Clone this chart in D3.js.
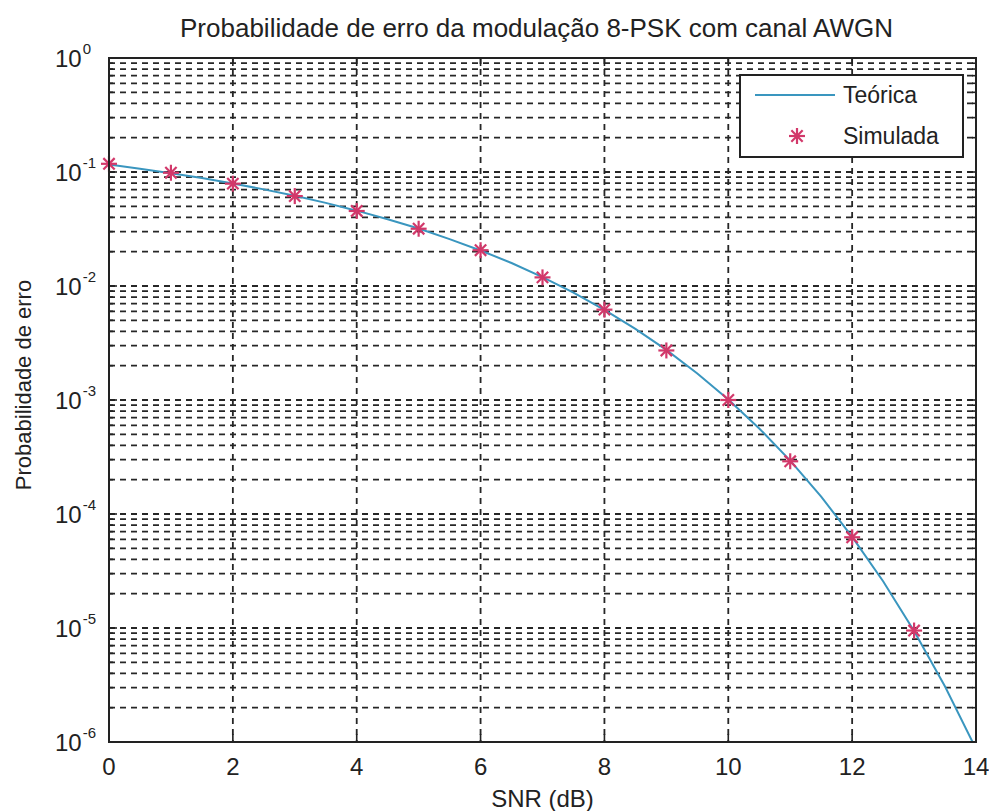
<!DOCTYPE html>
<html>
<head>
<meta charset="utf-8">
<script src="https://cdn.jsdelivr.net/npm/d3@7"></script>
<style>
  body { margin: 0; background: #fff; }
  text { font-family: "Liberation Sans", Arial, sans-serif; fill: #222; }
</style>
</head>
<body>
<div id="chart"></div>
<script>
// theoretical curve
const snrTeo = [0, 0.5, 1, 1.5, 2, 2.5, 3, 3.5, 4, 4.5, 5, 5.5, 6, 6.5, 7, 7.5, 8, 8.5, 9, 9.5, 10, 10.5, 11, 11.5, 12, 12.5, 13, 13.5, 14];
const berTeo = [0.1163, 0.1069, 0.0976, 0.0884, 0.0793, 0.0704, 0.0618, 0.0536, 0.0458, 0.0385, 0.0319, 0.0258,
    0.0205, 0.0159, 0.01195, 0.00874, 0.00618, 0.00421, 0.00275, 0.00171, 0.00101, 0.000563, 0.000294, 0.000142,
    0.000063, 0.0000257, 0.0000094, 0.00000307, 0.00000087];

// simulated points
const snrSim = [0, 1, 2, 3, 4, 5, 6, 7, 8, 9, 10, 11, 12, 13];
const berSim = [0.118, 0.0985, 0.0790, 0.0615, 0.0455, 0.0318, 0.0206, 0.0119, 0.0062, 0.00272, 0.00100, 0.000290, 0.0000625, 0.0000095];

const xTicks = [0, 2, 4, 6, 8, 10, 12, 14];
const yDecades = [0, -1, -2, -3, -4, -5, -6];

const legendLabels = ['Teórica', 'Simulada'];

const lineColor = '#3a96bf';
const starColor = '#d2386a';

const margin = {top: 58, right: 13, bottom: 69, left: 109};
const width = 989, height = 811;
const visWidth = width - margin.left - margin.right;
const visHeight = height - margin.top - margin.bottom;

const svg = d3.select('#chart').append('svg')
    .attr('width', width)
    .attr('height', height);

const container = svg.append('g')
    .attr('transform', `translate(${margin.left}, ${margin.top})`);

const x = d3.scaleLinear().domain([0, 14]).range([0, visWidth]);
const y = d3.scaleLog().domain([1e-6, 1]).range([visHeight, 0]);

container.append('clipPath').attr('id', 'clip')
    .append('rect').attr('width', visWidth).attr('height', visHeight);

// minor + major horizontal grid lines
const yGrid = [];
for (let e = -6; e < 0; e++) {
    for (let m = 1; m <= 9; m++) yGrid.push(m * Math.pow(10, e));
}
yGrid.push(1);

container.selectAll('.hgrid')
    .data(yGrid.filter(v => v > 1e-6 && v < 1))
    .join('line')
    .attr('class', 'hgrid')
    .attr('x1', 0).attr('x2', visWidth)
    .attr('y1', d => y(d)).attr('y2', d => y(d))
    .attr('stroke', '#262626')
    .attr('stroke-width', 1.8)
    .attr('stroke-dasharray', '6,5');

container.selectAll('.vgrid')
    .data(xTicks.filter(d => d > 0 && d < 14))
    .join('line')
    .attr('class', 'vgrid')
    .attr('x1', d => x(d)).attr('x2', d => x(d))
    .attr('y1', 0).attr('y2', visHeight)
    .attr('stroke', '#262626')
    .attr('stroke-width', 1.8)
    .attr('stroke-dasharray', '6,5');

// inside ticks
const tickLen = 8;
container.selectAll('.xtick')
    .data(xTicks)
    .join('g')
    .attr('class', 'xtick')
    .each(function (d) {
        const g = d3.select(this);
        g.append('line').attr('x1', x(d)).attr('x2', x(d)).attr('y1', visHeight).attr('y2', visHeight - tickLen)
            .attr('stroke', '#222').attr('stroke-width', 1.6);
        g.append('line').attr('x1', x(d)).attr('x2', x(d)).attr('y1', 0).attr('y2', tickLen)
            .attr('stroke', '#222').attr('stroke-width', 1.6);
    });

container.selectAll('.ytick')
    .data(yGrid)
    .join('g')
    .attr('class', 'ytick')
    .each(function (d) {
        const major = Math.abs(Math.log10(d) - Math.round(Math.log10(d))) < 1e-9;
        const len = major ? tickLen : 4;
        const g = d3.select(this);
        g.append('line').attr('x1', 0).attr('x2', len).attr('y1', y(d)).attr('y2', y(d))
            .attr('stroke', '#222').attr('stroke-width', 1.6);
        g.append('line').attr('x1', visWidth).attr('x2', visWidth - len).attr('y1', y(d)).attr('y2', y(d))
            .attr('stroke', '#222').attr('stroke-width', 1.6);
    });

// theoretical curve
const line = d3.line()
    .x((d, i) => x(snrTeo[i]))
    .y(d => y(d));

container.append('path')
    .datum(berTeo)
    .attr('clip-path', 'url(#clip)')
    .attr('d', line)
    .attr('fill', 'none')
    .attr('stroke', lineColor)
    .attr('stroke-width', 2);

// star marker
function star(g, cx, cy) {
    const r = 8;
    [0, 45, 90, 135].forEach(function (a) {
        const rad = a * Math.PI / 180;
        g.append('line')
            .attr('x1', cx - r * Math.cos(rad)).attr('y1', cy - r * Math.sin(rad))
            .attr('x2', cx + r * Math.cos(rad)).attr('y2', cy + r * Math.sin(rad))
            .attr('stroke', starColor)
            .attr('stroke-width', 2.2);
    });
}

const stars = container.append('g');
berSim.forEach(function (d, i) {
    star(stars, x(snrSim[i]), y(d));
});

// box
container.append('rect')
    .attr('width', visWidth).attr('height', visHeight)
    .attr('fill', 'none')
    .attr('stroke', '#222')
    .attr('stroke-width', 2);

// x tick labels
svg.selectAll('.xlabel')
    .data(xTicks)
    .join('text')
    .attr('class', 'xlabel')
    .attr('x', d => margin.left + x(d))
    .attr('y', margin.top + visHeight + 33)
    .attr('text-anchor', 'middle')
    .style('font-size', '24px')
    .text(d => d);

// y tick labels 10^e
const ylab = svg.selectAll('.ylabel')
    .data(yDecades)
    .join('text')
    .attr('class', 'ylabel')
    .attr('x', margin.left - 54)
    .attr('y', d => margin.top + y(Math.pow(10, d)) + 9)
    .style('font-size', '24px');
ylab.append('tspan').text('10');
ylab.append('tspan')
    .attr('dy', -13)
    .attr('dx', 1)
    .style('font-size', '15px')
    .text(d => d);

// title and axis titles
svg.append('text')
    .attr('x', margin.left + visWidth / 2 - 6)
    .attr('y', 37)
    .attr('text-anchor', 'middle')
    .style('font-size', '26px')
    .text('Probabilidade de erro da modulação 8-PSK com canal AWGN');

svg.append('text')
    .attr('x', margin.left + visWidth / 2)
    .attr('y', 807)
    .attr('text-anchor', 'middle')
    .style('font-size', '24px')
    .text('SNR (dB)');

svg.append('text')
    .attr('transform', `translate(31, ${385}) rotate(-90)`)
    .attr('text-anchor', 'middle')
    .style('font-size', '22px')
    .text('Probabilidade de erro');

// legend
const legend = svg.append('g').attr('transform', 'translate(740, 75)');
legend.append('rect')
    .attr('width', 223).attr('height', 82)
    .attr('fill', '#fff')
    .attr('stroke', '#222')
    .attr('stroke-width', 2);
legend.append('line')
    .attr('x1', 15).attr('x2', 95).attr('y1', 20).attr('y2', 20)
    .attr('stroke', lineColor).attr('stroke-width', 2);
star(legend, 57, 61);
legend.selectAll('.legtext')
    .data(legendLabels)
    .join('text')
    .attr('class', 'legtext')
    .attr('x', 103)
    .attr('y', (d, i) => 28 + i * 41)
    .style('font-size', '23px')
    .text(d => d);
</script>
</body>
</html>
